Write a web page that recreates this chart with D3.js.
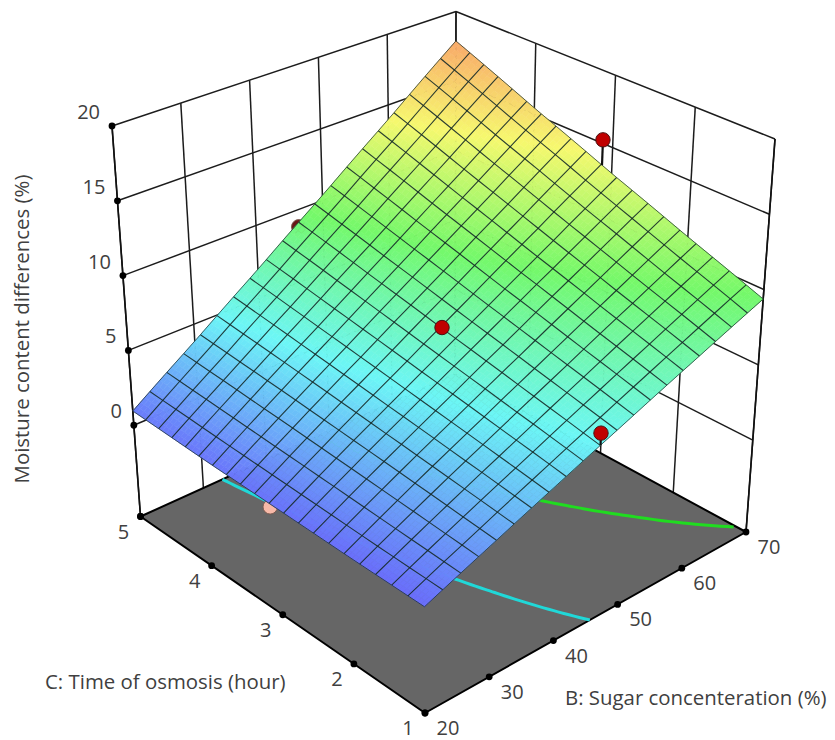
<!DOCTYPE html>
<html>
<head>
<meta charset="utf-8">
<script src="https://cdn.jsdelivr.net/npm/d3@7"></script>
<style>
  html, body { margin: 0; padding: 0; background: #fff; }
  text { font-family: "Open Sans", sans-serif; fill: #404040; }
</style>
</head>
<body>
<svg id="chart" width="835" height="740"></svg>
<script>
var sugarTicks = [20, 30, 40, 50, 60, 70]
var timeTicks = [1, 2, 3, 4, 5]
var moistureTicks = [0, 5, 10, 15, 20]
var MOISTURE_FLOOR = -6.1

// surface height at each sugar tick (columns) and time tick (rows)
var heightC1 = [0.44, 2.08, 3.79, 5.57, 7.43, 9.37]
var heightC2 = [0.5, 2.52, 4.53, 6.64, 8.86, 11.21]
var heightC3 = [0.62, 2.96, 5.3, 7.78, 10.42, 13.22]
var heightC4 = [0.75, 3.41, 6.12, 9.02, 12.12, 15.44]
var heightC5 = [0.95, 3.85, 6.98, 10.35, 13.97, 17.88]
var heights = [heightC1, heightC2, heightC3, heightC4, heightC5]

// design points: sugar, time, moisture
var pointSugar = [70, 46.4, 46.33, 46.2, 20]
var pointTime = [3.125, 1, 5, 3.1, 3.12]
var pointMoisture = [15.25, 5.7, 8.81, 7.12, 0.45]
var pointAbove = [true, true, false, true, false]
var pointFill = ['#c00000', '#c00000', '#6a1818', '#c00000', '#f7b9a8']

var contourLevels = [4.8, 9.6]
var contourColors = ['#20d8d8', '#20dc20']

var colorStops = [0.4, 5, 9.5, 14, 21]
var colorValues = ['#6a6cfb', '#6cf6f6', '#74f86a', '#f6f86e', '#fb6a66']

var MESH_CELLS = 20
var SUB_CELLS = 4
var MESH_SKEW_SUGAR = 1.115
var MESH_SKEW_TIME = 1.145

// corners of the box as drawn: front, right, left, back
var floorCorners = { f: [425, 713], r: [746, 532], l: [140.5, 516.5], b: [455, 374] }
var topCorners = { f: [423, 289], r: [775, 139], l: [112, 126], b: [456, 11.5] }

var sugarScale = d3.scaleLinear().domain([20, 70]).range([0, 1])
var timeScale = d3.scaleLinear().domain([1, 5]).range([0, 1])
var moistureScale = d3.scaleLinear().domain([MOISTURE_FLOOR, 20]).range([0, 1])
var colorScale = d3.scaleLinear().domain(colorStops).range(colorValues).clamp(true)

function skew (t, k) { return k * t / (1 + (k - 1) * t) }

function bilinear (c, u, v, i) {
  return (1 - u) * (1 - v) * c.f[i] + u * (1 - v) * c.r[i] + (1 - u) * v * c.l[i] + u * v * c.b[i]
}

function project (sugar, time, moisture) {
  var u = sugarScale(sugar)
  var v = timeScale(time)
  var w = moistureScale(moisture)
  return [
    (1 - w) * bilinear(floorCorners, u, v, 0) + w * bilinear(topCorners, u, v, 0),
    (1 - w) * bilinear(floorCorners, u, v, 1) + w * bilinear(topCorners, u, v, 1)
  ]
}

function surfaceAt (sugar, time) {
  var a = Math.min(Math.floor((sugar - 20) / 10), sugarTicks.length - 2)
  var b = Math.min(Math.floor(time - 1), timeTicks.length - 2)
  var s = (sugar - sugarTicks[a]) / 10
  var t = time - timeTicks[b]
  return (1 - s) * (1 - t) * heights[b][a] + s * (1 - t) * heights[b][a + 1] +
    (1 - s) * t * heights[b + 1][a] + s * t * heights[b + 1][a + 1]
}

function contourPath (level) {
  var pts = []
  d3.range(0, 81).forEach(function (k) {
    var time = 1 + k / 20
    if (surfaceAt(20, time) > level || surfaceAt(70, time) < level) return
    var lo = 20
    var hi = 70
    for (var i = 0; i < 24; ++i) {
      var mid = (lo + hi) / 2
      if (surfaceAt(mid, time) < level) lo = mid
      else hi = mid
    }
    pts.push(project(lo, time, MOISTURE_FLOOR))
  })
  return pts
}

var svg = d3.select('#chart')
var line = d3.line()
var ink = '#1c1c1c'

function seg (g, a, b, width, color) {
  g.append('path')
    .attr('d', line([a, b]))
    .attr('fill', 'none')
    .attr('stroke', color || ink)
    .attr('stroke-width', width)
}

// walls
var walls = svg.append('g')
sugarTicks.forEach(function (s) {
  seg(walls, project(s, 5, MOISTURE_FLOOR), project(s, 5, 20), 1.5)
})
timeTicks.forEach(function (c) {
  seg(walls, project(70, c, MOISTURE_FLOOR), project(70, c, 20), 1.5)
})
moistureTicks.forEach(function (z) {
  seg(walls, project(20, 5, z), project(70, 5, z), 1.5)
  seg(walls, project(70, 5, z), project(70, 1, z), 1.5)
})
seg(walls, project(20, 5, MOISTURE_FLOOR), project(20, 5, 20), 1.6, '#111')
seg(walls, project(70, 1, MOISTURE_FLOOR), project(70, 1, 20), 1.6, '#111')

// floor
var floorPts = [project(20, 1, MOISTURE_FLOOR), project(70, 1, MOISTURE_FLOOR), project(70, 5, MOISTURE_FLOOR), project(20, 5, MOISTURE_FLOOR)]
svg.append('path')
  .attr('d', line(floorPts) + 'Z')
  .attr('fill', '#666666')
  .attr('stroke', '#000')
  .attr('stroke-width', 2)
  .attr('stroke-linejoin', 'round')

contourLevels.forEach(function (level, i) {
  svg.append('path')
    .attr('d', d3.line().curve(d3.curveCatmullRom)(contourPath(level)))
    .attr('fill', 'none')
    .attr('stroke', contourColors[i])
    .attr('stroke-width', 3)
})

// axis tick dots
var dots = []
sugarTicks.forEach(function (s) { dots.push(project(s, 1, MOISTURE_FLOOR)) })
timeTicks.forEach(function (c) { dots.push(project(20, c, MOISTURE_FLOOR)) })
moistureTicks.forEach(function (z) { dots.push(project(20, 5, z)) })
dots.push(project(20, 5, MOISTURE_FLOOR))
svg.append('g').selectAll('circle')
  .data(dots)
  .join('circle')
  .attr('cx', function (d) { return d[0] })
  .attr('cy', function (d) { return d[1] })
  .attr('r', 3.4)
  .attr('fill', '#000')

function drawPoints (above) {
  var idx = d3.range(pointSugar.length).filter(function (i) { return pointAbove[i] === above })
  var g = svg.append('g')
  idx.forEach(function (i) {
    var p = project(pointSugar[i], pointTime[i], pointMoisture[i])
    if (above) {
      var base = project(pointSugar[i], pointTime[i], surfaceAt(pointSugar[i], pointTime[i]))
      seg(g, p, base, 2.2, '#111')
    }
    g.append('circle')
      .attr('cx', p[0])
      .attr('cy', p[1])
      .attr('r', 7.2)
      .attr('fill', pointFill[i])
      .attr('stroke', above ? '#4a1010' : '#7a5a50')
      .attr('stroke-width', 1)
  })
}

drawPoints(false)

// surface patches, subdivided so the colour runs smoothly across a mesh cell
var step = 1 / (MESH_CELLS * SUB_CELLS)
var patches = []
d3.range(MESH_CELLS * SUB_CELLS).forEach(function (i) {
  d3.range(MESH_CELLS * SUB_CELLS).forEach(function (j) {
    patches.push({ u: i * step, v: j * step })
  })
})

function onSurface (u, v) {
  var s = sugarScale.invert(u)
  var c = timeScale.invert(v)
  return project(s, c, surfaceAt(s, c))
}

function patchColor (d) {
  return colorScale(surfaceAt(sugarScale.invert(d.u + step / 2), timeScale.invert(d.v + step / 2)))
}

svg.append('g').selectAll('path')
  .data(patches)
  .join('path')
  .attr('d', function (d) {
    return line([onSurface(d.u, d.v), onSurface(d.u + step, d.v), onSurface(d.u + step, d.v + step), onSurface(d.u, d.v + step)]) + 'Z'
  })
  .attr('fill', patchColor)
  .attr('stroke', patchColor)
  .attr('stroke-width', 0.6)

// mesh lines, closer together towards the far corner of the box
var meshU = d3.range(MESH_CELLS + 1).map(function (i) { return skew(i / MESH_CELLS, MESH_SKEW_SUGAR) })
var meshV = d3.range(MESH_CELLS + 1).map(function (i) { return skew(i / MESH_CELLS, MESH_SKEW_TIME) })
var mesh = svg.append('g')
  .attr('fill', 'none')
  .attr('stroke', '#152a28')
  .attr('stroke-opacity', 0.9)
d3.range(MESH_CELLS + 1).forEach(function (i) {
  var edge = i === 0 || i === MESH_CELLS
  mesh.append('path')
    .attr('d', line(meshV.map(function (v) { return onSurface(meshU[i], v) })))
    .attr('stroke-width', edge ? 0.8 : 1.1)
  mesh.append('path')
    .attr('d', line(meshU.map(function (u) { return onSurface(u, meshV[i]) })))
    .attr('stroke-width', edge ? 0.8 : 1.1)
})

drawPoints(true)

// tick labels
var labels = svg.append('g').attr('font-size', 20)
sugarTicks.forEach(function (s) {
  var p = project(s, 1, MOISTURE_FLOOR)
  labels.append('text').attr('x', p[0] + 23).attr('y', p[1] + 22)
    .attr('text-anchor', 'middle').text(s)
})
timeTicks.forEach(function (c) {
  var p = project(20, c, MOISTURE_FLOOR)
  labels.append('text').attr('x', p[0] - 17).attr('y', p[1] + 22)
    .attr('text-anchor', 'middle').text(c)
})
moistureTicks.forEach(function (z) {
  var p = project(20, 5, z)
  labels.append('text').attr('x', p[0] - 12).attr('y', p[1] - 7)
    .attr('text-anchor', 'end').text(z)
})

labels.append('text').attr('x', 45).attr('y', 689).attr('font-size', 20.4).text('C: Time of osmosis (hour)')
labels.append('text').attr('x', 565).attr('y', 705).attr('font-size', 20.4).text('B: Sugar concenteration (%)')
labels.append('text')
  .attr('transform', 'translate(29,329) rotate(-90)')
  .attr('text-anchor', 'middle')
  .attr('font-size', 20.4)
  .text('Moisture content differences (%)')
</script>
</body>
</html>
